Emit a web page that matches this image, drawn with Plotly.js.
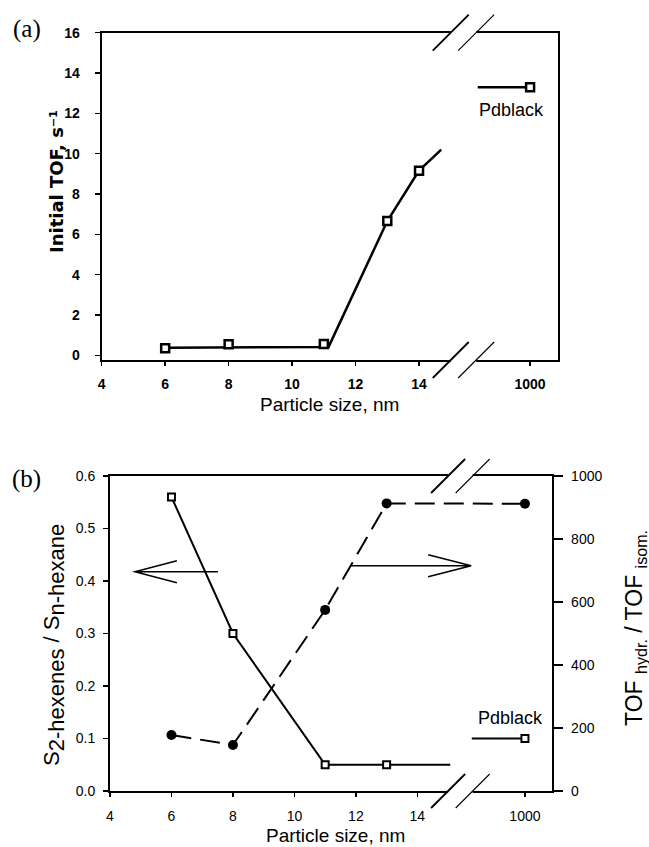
<!DOCTYPE html>
<html><head><meta charset="utf-8">
<script src="https://cdn.plot.ly/plotly-3.0.1.min.js"></script>
<style>html,body{margin:0;padding:0;background:#fff}#chart{width:649px;height:847px}</style>
</head><body><div id="chart"></div>
<script>
// ---------- Panel (a): initial TOF vs particle size ----------
const sizeA = [6, 8, 11, 13, 14];
const tofA = [0.35, 0.55, 0.56, 6.66, 9.16];
const fitLineAX = [6, 11.15, 13, 14, 14.7];
const fitLineAY = [0.38, 0.42, 6.66, 9.16, 10.2];
const pdSize = 1000;
const pdTofA = 13.3;

// ---------- Panel (b): selectivity and TOF ratio ----------
const sizeB = [6, 8, 11, 13];
const selectivityB = [0.56, 0.30, 0.05, 0.05];
const selLineX = [6, 8, 11, 13, 15.07];
const selLineY = [0.56, 0.30, 0.05, 0.05, 0.05];
const pdSelB = 0.10;
const ratioX = [6, 8, 11, 13, 1000];
const ratioY = [178, 146, 575, 913, 912];

const xTickVals = [4, 6, 8, 10, 12, 14, 1000];
const xTickText = ['4', '6', '8', '10', '12', '14', '1000'];
const yTicksA = [0, 2, 4, 6, 8, 10, 12, 14, 16];
const yTicksB = [0, 0.1, 0.2, 0.3, 0.4, 0.5, 0.6];
const yTicksB2 = [0, 200, 400, 600, 800, 1000];

// broken x axis: values beyond the break are drawn at the break slot
const BREAK_POS = 17.5;
const BREAK_L = 15.0, BREAK_R = 15.8;
const bx = v => (v > 100 ? BREAK_POS : v);
const STUB_A = 15.85, STUB_B = 15.77;

const W = 649, H = 847;
const FONT = 'Liberation Sans, Arial, sans-serif';
const px = v => v / W, py = v => 1 - v / H;

const sq = (w) => ({symbol: 'square', size: 8, color: 'white', line: {color: 'black', width: w}});

const traces = [
  {x: fitLineAX, y: fitLineAY, xaxis: 'x', yaxis: 'y', mode: 'lines', line: {color: 'black', width: 2.5}},
  {x: sizeA, y: tofA, xaxis: 'x', yaxis: 'y', mode: 'markers', marker: sq(2.5)},
  {x: [STUB_A, bx(pdSize)], y: [pdTofA, pdTofA], xaxis: 'x', yaxis: 'y', mode: 'lines', line: {color: 'black', width: 2.5}},
  {x: [bx(pdSize)], y: [pdTofA], xaxis: 'x', yaxis: 'y', mode: 'markers', marker: sq(2.5)},

  {x: selLineX, y: selLineY, xaxis: 'x2', yaxis: 'y2', mode: 'lines', line: {color: 'black', width: 2}},
  {x: sizeB, y: selectivityB, xaxis: 'x2', yaxis: 'y2', mode: 'markers', marker: {symbol: 'square', size: 7, color: 'white', line: {color: 'black', width: 2}}},
  {x: [STUB_B, bx(pdSize)], y: [pdSelB, pdSelB], xaxis: 'x2', yaxis: 'y2', mode: 'lines', line: {color: 'black', width: 2}},
  {x: [bx(pdSize)], y: [pdSelB], xaxis: 'x2', yaxis: 'y2', mode: 'markers', marker: {symbol: 'square', size: 7, color: 'white', line: {color: 'black', width: 2}}},
  {x: ratioX.map(bx), y: ratioY, xaxis: 'x2', yaxis: 'y3', mode: 'lines+markers',
   line: {color: 'black', width: 2, dash: '20px,9px'}, marker: {symbol: 'circle', size: 10, color: 'black'}}
];

const baseAxis = {
  showline: true, linecolor: 'black', linewidth: 2, showgrid: false, zeroline: false,
  ticks: 'outside', tickcolor: 'black', tickwidth: 1.5, fixedrange: true
};
const boldTick = {family: FONT, size: 14, color: 'black', weight: 'bold'};
const regTick = {family: FONT, size: 14, color: 'black'};

const layout = {
  width: W, height: H, margin: {l: 0, r: 0, t: 0, b: 0},
  paper_bgcolor: 'white', plot_bgcolor: 'white', showlegend: false,
  xaxis: Object.assign({}, baseAxis, {domain: [px(101.7), px(557.7)], anchor: 'y', range: [4, 18.37], mirror: true,
    tickvals: xTickVals.map(bx), ticktext: xTickText, ticklen: 4, tickfont: boldTick, ticklabelstandoff: 6}),
  yaxis: Object.assign({}, baseAxis, {domain: [py(360), py(32.7)], anchor: 'x', range: [-0.23, 16], mirror: true,
    tickvals: yTicksA, ticklen: 5, tickfont: boldTick, ticklabelstandoff: 12}),
  xaxis2: Object.assign({}, baseAxis, {domain: [px(110), px(552.3)], anchor: 'y2', range: [4, 18.39], mirror: true,
    tickvals: xTickVals.map(bx), ticktext: xTickText, ticklen: 4, tickfont: regTick, ticklabelstandoff: 7}),
  yaxis2: Object.assign({}, baseAxis, {domain: [py(791), py(476)], anchor: 'x2', range: [0, 0.6],
    tickvals: yTicksB, tickformat: '.1f', ticklen: 5, tickfont: regTick, ticklabelstandoff: 5}),
  yaxis3: Object.assign({}, baseAxis, {overlaying: 'y2', side: 'right', anchor: 'x2', range: [0, 1000],
    tickvals: yTicksB2, ticklen: 9, tickfont: regTick, ticklabelstandoff: 5}),
  shapes: [],
  annotations: []
};

// break marks: white gap on top/bottom frame lines + two slashes
function addBreak(xref, yBottomPaper, yTopPaper, half) {
  [yBottomPaper, yTopPaper].forEach(yp => {
    layout.shapes.push({type: 'rect', layer: 'above', xref: xref, yref: 'paper', x0: BREAK_L, x1: BREAK_R,
      ysizemode: 'pixel', yanchor: yp, y0: -3, y1: 3, fillcolor: 'white', line: {width: 0}});
    [[BREAK_L, 1.8], [BREAK_R, 1.1]].forEach(([xa, lw]) => {
      layout.shapes.push({type: 'line', layer: 'above', xref: xref, yref: 'paper',
        xsizemode: 'pixel', xanchor: xa, x0: -half, x1: half,
        ysizemode: 'pixel', yanchor: yp, y0: -half, y1: half, line: {color: 'black', width: lw}});
    });
  });
}
addBreak('x', py(360), py(32.7), 18);
addBreak('x2', py(791), py(476), 17);

// arrows in panel (b)
layout.shapes.push({type: 'path', layer: 'above', xref: 'x2', yref: 'y2', xsizemode: 'pixel', ysizemode: 'pixel',
  xanchor: 4.81, yanchor: 0.4177, path: 'M 0 0 L 83 0 M 42 11 L 0 0 L 42 -11', line: {color: 'black', width: 1.5}});
layout.shapes.push({type: 'path', layer: 'above', xref: 'x2', yref: 'y2', xsizemode: 'pixel', ysizemode: 'pixel',
  xanchor: 15.75, yanchor: 0.4291, path: 'M 0 0 L -120 0 M -43 11 L 0 0 L -43 -11', line: {color: 'black', width: 1.5}});

function ann(text, x, y, size, opts) {
  layout.annotations.push(Object.assign({text: text, x: x, y: y, xref: 'paper', yref: 'paper', showarrow: false,
    xanchor: 'center', yanchor: 'middle', borderpad: 0, font: {family: FONT, size: size, color: 'black'}}, opts || {}));
}
const SERIF = {family: 'Liberation Serif, Times New Roman, serif', size: 25, color: 'black'};
ann('(a)', px(27), py(28.5), 25, {font: SERIF});
ann('(b)', px(26.5), py(478.7), 25, {font: SERIF});
ann('Initial TOF, s⁻¹', px(57), py(182), 18, {textangle: -90,
  font: {family: 'DejaVu Sans, sans-serif', size: 18, color: 'black', weight: 'bold'}});
ann('Particle size, nm', px(329), py(404), 19);
ann('Particle size, nm', px(335), py(835), 19);
ann('S<sub><span style="font-size:22px">2-hexenes</span></sub> / S<sub><span style="font-size:22px">n-hexane</span></sub>', px(54), py(645), 22, {textangle: -90});
ann('TOF <sub>hydr.</sub> / TOF <sub>isom.</sub>', px(635), py(628), 23, {textangle: -90});
ann('Pdblack', 16.9, 12.17, 18, {xref: 'x', yref: 'y'});
ann('Pdblack', 17.02, 0.1385, 18, {xref: 'x2', yref: 'y2'});

Plotly.newPlot('chart', traces, layout, {staticPlot: true, displayModeBar: false});
</script>
</body></html>
